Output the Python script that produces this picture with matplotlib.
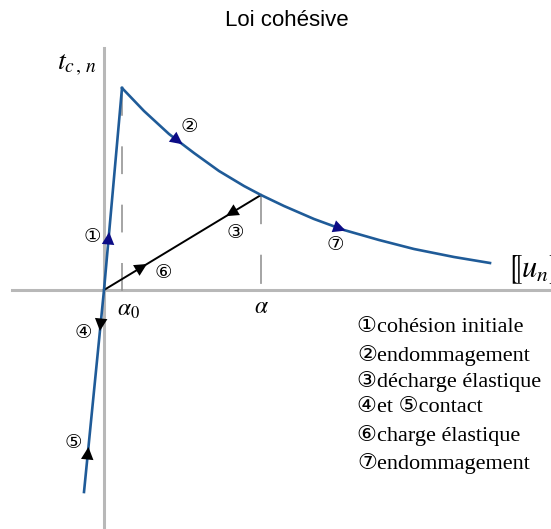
import numpy as np
import matplotlib
matplotlib.use("Agg")
import matplotlib.pyplot as plt

plt.rcParams["mathtext.fontset"] = "stix"
plt.rcParams["lines.scale_dashes"] = False

# Loi cohesive : separation [u_n] (x) et traction t_c,n (y), unites arbitraires
u_contact = [-0.20, 0.0, 0.18]
t_contact = [-2.02, 0.0, 2.02]

u_endo = [0.18, 0.40, 0.65, 0.90, 1.15, 1.40, 1.57, 1.80, 2.10, 2.40, 2.75, 3.10, 3.50, 3.86]
t_endo = [2.02, 1.79, 1.56, 1.37, 1.19, 1.04, 0.95, 0.84, 0.71, 0.60, 0.50, 0.41, 0.33, 0.27]

u_decharge = [0.0, 1.57]
t_decharge = [0.0, 0.95]

alpha0 = 0.18
alpha = 1.57

legende = ["①cohésion initiale", "②endommagement", "③décharge élastique",
           "④et ⑤contact", "⑥charge élastique", "⑦endommagement"]

bleu = "#1f5b98"
navy = "#0c0c86"
gris = "#b8b8b8"

fig = plt.figure(figsize=(5.51, 5.29), dpi=100)
ax = fig.add_axes([0, 0, 1, 1])
ax.set_xlim(-1.04, 4.47)
ax.set_ylim(-2.39, 2.90)
ax.axis("off")

# axes gris
ax.plot([0, 0], [-2.39, 2.42], color=gris, lw=2.2, zorder=1)
ax.plot([-0.92, 4.47], [0, 0], color=gris, lw=2.2, zorder=1)

# pointilles alpha_0 et alpha
ax.plot([alpha0, alpha0], [t_endo[0], -0.07], color="#8c8c8c", lw=1.1,
        linestyle=(0, (20, 22)), zorder=1)
ax.plot([alpha, alpha], [t_endo[6], 0], color="#8c8c8c", lw=1.1,
        linestyle=(0, (21, 22)), zorder=1)

ax.plot(u_contact, t_contact, color=bleu, lw=1.9, zorder=3)
ax.plot(u_endo, t_endo, color=bleu, lw=1.9, zorder=3)
ax.plot(u_decharge, t_decharge, color="black", lw=1.4, zorder=2)


def fleche(xs, ys, par, sens, couleur, sur_y=False, h=0.07):
    xs = np.asarray(xs); ys = np.asarray(ys)
    if sur_y:
        y = par
        x = np.interp(y, ys, xs)
    else:
        x = par
        y = np.interp(x, xs, ys)
    # direction locale de la courbe
    i = np.searchsorted(xs, x) if not sur_y else np.searchsorted(ys, y)
    i = min(max(i, 1), len(xs) - 1)
    d = np.array([xs[i] - xs[i - 1], ys[i] - ys[i - 1]])
    d = sens * d / np.hypot(*d)
    ax.annotate("", xy=(x + d[0] * h, y + d[1] * h), xytext=(x - d[0] * h, y - d[1] * h),
                arrowprops=dict(arrowstyle="-|>,head_length=0.9,head_width=0.45",
                                color=couleur, lw=0, shrinkA=0, shrinkB=0,
                                mutation_scale=10), zorder=4)


fleche(u_contact, t_contact, 0.51, 1, navy, sur_y=True)
fleche(u_endo, t_endo, 0.73, 1, navy)
fleche(u_endo, t_endo, 2.35, 1, navy)
fleche(u_decharge, t_decharge, 1.28, -1, "black")
fleche(u_decharge, t_decharge, 0.37, 1, "black")
fleche(u_contact, t_contact, -0.34, -1, "black", sur_y=True)
fleche(u_contact, t_contact, -1.64, 1, "black", sur_y=True)

# numeros
num = {"①": (-0.12, 0.53), "②": (0.85, 1.63), "③": (1.31, 0.58), "④": (-0.21, -0.42),
       "⑤": (-0.31, -1.53), "⑥": (0.59, 0.17), "⑦": (2.31, 0.45)}
for k, (x, y) in num.items():
    ax.text(x, y, k, fontsize=14, ha="center", va="center", family="DejaVu Sans")

fig.text(286.5 / 551, 1 - 20 / 529, "Loi cohésive", fontsize=16, ha="center",
         va="center", family="Liberation Sans")
ax.text(-0.47, 2.26, r"$t_{c\,,\,n}$", fontsize=20, ha="left", va="center")
ax.text(4.02, 0.20, "$\u27e6 u_n \u27e7$", fontsize=22, ha="left", va="center")
ax.text(0.13, -0.19, r"$\alpha_0$", fontsize=17, ha="left", va="center")
ax.text(1.57, -0.16, r"$\alpha$", fontsize=17, ha="center", va="center")

ys = [-0.37, -0.65, -0.92, -1.18, -1.45, -1.73]
for s, y in zip(legende, ys):
    ax.text(2.53, y, s, fontsize=16, ha="left", va="center",
            family=["Liberation Serif", "DejaVu Sans"])

fig.savefig("out.png", dpi=100)
